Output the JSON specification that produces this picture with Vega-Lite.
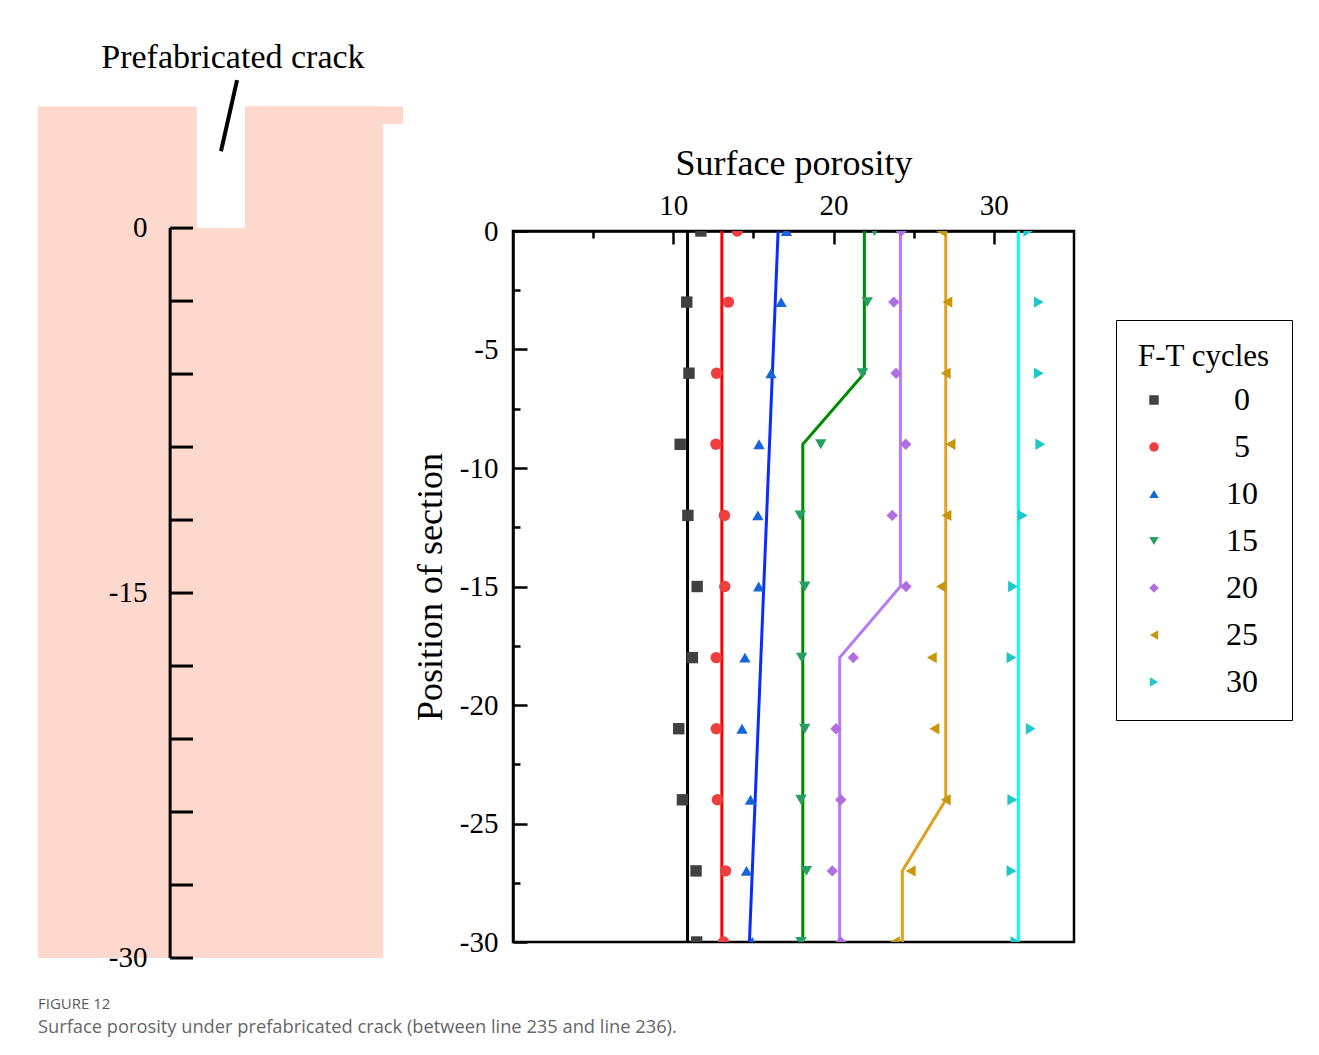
{
  "$schema": "https://vega.github.io/schema/vega-lite/v6.json",
  "background": "white",
  "padding": {"left": 38, "top": 40, "right": 10, "bottom": 10},
  "config": {"font": "Liberation Serif", "view": {"stroke": null}},
  "title": {
    "text": "FIGURE 12",
    "subtitle": "Surface porosity under prefabricated crack (between line 235 and line 236).",
    "orient": "bottom", "anchor": "start", "frame": "bounds", "offset": 24,
    "font": "Open Sans", "fontSize": 15, "fontWeight": "normal", "color": "#5a5a5a",
    "subtitleFont": "Open Sans", "subtitleFontSize": 18.3, "subtitleColor": "#666666", "subtitlePadding": 7
  },
  "datasets": {
    "specimen": [
      {"x0": 0, "x1": 14.18, "d0": -30, "d1": 0},
      {"x0": 0, "x1": 6.53, "d0": 0, "d1": 5},
      {"x0": 8.51, "x1": 14.18, "d0": 0, "d1": 5},
      {"x0": 8.51, "x1": 15, "d0": 4.27, "d1": 5}
    ],
    "ruler": [
      {"depth": 0, "label": "0"}, {"depth": -3, "label": ""}, {"depth": -6, "label": ""},
      {"depth": -9, "label": ""}, {"depth": -12, "label": ""}, {"depth": -15, "label": "-15"},
      {"depth": -18, "label": ""}, {"depth": -21, "label": ""}, {"depth": -24, "label": ""},
      {"depth": -27, "label": ""}, {"depth": -30, "label": "-30"}
    ],
    "notes": [{"text": "Prefabricated crack"}],
    "points": [
      {"cycle": 0, "depth": 0, "porosity": 11.72}, {"cycle": 0, "depth": -3, "porosity": 10.84}, {"cycle": 0, "depth": -6, "porosity": 10.98}, {"cycle": 0, "depth": -9, "porosity": 10.43}, {"cycle": 0, "depth": -12, "porosity": 10.91}, {"cycle": 0, "depth": -15, "porosity": 11.49}, {"cycle": 0, "depth": -18, "porosity": 11.19}, {"cycle": 0, "depth": -21, "porosity": 10.34}, {"cycle": 0, "depth": -24, "porosity": 10.57}, {"cycle": 0, "depth": -27, "porosity": 11.42}, {"cycle": 0, "depth": -30, "porosity": 11.46},
      {"cycle": 5, "depth": 0, "porosity": 13.99}, {"cycle": 5, "depth": -3, "porosity": 13.44}, {"cycle": 5, "depth": -6, "porosity": 12.7}, {"cycle": 5, "depth": -9, "porosity": 12.66}, {"cycle": 5, "depth": -12, "porosity": 13.19}, {"cycle": 5, "depth": -15, "porosity": 13.21}, {"cycle": 5, "depth": -18, "porosity": 12.68}, {"cycle": 5, "depth": -21, "porosity": 12.68}, {"cycle": 5, "depth": -24, "porosity": 12.75}, {"cycle": 5, "depth": -27, "porosity": 13.26}, {"cycle": 5, "depth": -30, "porosity": 13.14},
      {"cycle": 10, "depth": 0, "porosity": 17.05}, {"cycle": 10, "depth": -3, "porosity": 16.73}, {"cycle": 10, "depth": -6, "porosity": 16.1}, {"cycle": 10, "depth": -9, "porosity": 15.35}, {"cycle": 10, "depth": -12, "porosity": 15.28}, {"cycle": 10, "depth": -15, "porosity": 15.33}, {"cycle": 10, "depth": -18, "porosity": 14.47}, {"cycle": 10, "depth": -21, "porosity": 14.29}, {"cycle": 10, "depth": -24, "porosity": 14.82}, {"cycle": 10, "depth": -27, "porosity": 14.57}, {"cycle": 10, "depth": -30, "porosity": 14.93},
      {"cycle": 15, "depth": 0, "porosity": 22.56}, {"cycle": 15, "depth": -3, "porosity": 22.1}, {"cycle": 15, "depth": -6, "porosity": 21.8}, {"cycle": 15, "depth": -9, "porosity": 19.2}, {"cycle": 15, "depth": -12, "porosity": 17.92}, {"cycle": 15, "depth": -15, "porosity": 18.2}, {"cycle": 15, "depth": -18, "porosity": 18.01}, {"cycle": 15, "depth": -21, "porosity": 18.2}, {"cycle": 15, "depth": -24, "porosity": 17.97}, {"cycle": 15, "depth": -27, "porosity": 18.31}, {"cycle": 15, "depth": -30, "porosity": 17.97},
      {"cycle": 20, "depth": 0, "porosity": 24.22}, {"cycle": 20, "depth": -3, "porosity": 23.76}, {"cycle": 20, "depth": -6, "porosity": 23.9}, {"cycle": 20, "depth": -9, "porosity": 24.5}, {"cycle": 20, "depth": -12, "porosity": 23.66}, {"cycle": 20, "depth": -15, "porosity": 24.52}, {"cycle": 20, "depth": -18, "porosity": 21.23}, {"cycle": 20, "depth": -21, "porosity": 20.15}, {"cycle": 20, "depth": -24, "porosity": 20.45}, {"cycle": 20, "depth": -27, "porosity": 19.92}, {"cycle": 20, "depth": -30, "porosity": 20.45},
      {"cycle": 25, "depth": 0, "porosity": 26.7}, {"cycle": 25, "depth": -3, "porosity": 27.1}, {"cycle": 25, "depth": -6, "porosity": 27.0}, {"cycle": 25, "depth": -9, "porosity": 27.3}, {"cycle": 25, "depth": -12, "porosity": 27.04}, {"cycle": 25, "depth": -15, "porosity": 26.7}, {"cycle": 25, "depth": -18, "porosity": 26.13}, {"cycle": 25, "depth": -21, "porosity": 26.29}, {"cycle": 25, "depth": -24, "porosity": 27.0}, {"cycle": 25, "depth": -27, "porosity": 24.81}, {"cycle": 25, "depth": -30, "porosity": 23.82},
      {"cycle": 30, "depth": 0, "porosity": 32.15}, {"cycle": 30, "depth": -3, "porosity": 32.8}, {"cycle": 30, "depth": -6, "porosity": 32.8}, {"cycle": 30, "depth": -9, "porosity": 32.9}, {"cycle": 30, "depth": -12, "porosity": 31.8}, {"cycle": 30, "depth": -15, "porosity": 31.2}, {"cycle": 30, "depth": -18, "porosity": 31.1}, {"cycle": 30, "depth": -21, "porosity": 32.3}, {"cycle": 30, "depth": -24, "porosity": 31.15}, {"cycle": 30, "depth": -27, "porosity": 31.1}, {"cycle": 30, "depth": -30, "porosity": 31.35}
    ],
    "fits": [
      {"cycle": 0, "depth": 0, "fit": 10.89}, {"cycle": 0, "depth": -30, "fit": 10.89},
      {"cycle": 5, "depth": 0, "fit": 13.03}, {"cycle": 5, "depth": -30, "fit": 13.03},
      {"cycle": 10, "depth": 0, "fit": 16.54}, {"cycle": 10, "depth": -30, "fit": 14.75},
      {"cycle": 15, "depth": 0, "fit": 21.92}, {"cycle": 15, "depth": -6, "fit": 21.92}, {"cycle": 15, "depth": -9, "fit": 18.08}, {"cycle": 15, "depth": -30, "fit": 18.08},
      {"cycle": 20, "depth": 0, "fit": 24.17}, {"cycle": 20, "depth": -15, "fit": 24.17}, {"cycle": 20, "depth": -18, "fit": 20.38}, {"cycle": 20, "depth": -30, "fit": 20.38},
      {"cycle": 25, "depth": 0, "fit": 27.0}, {"cycle": 25, "depth": -24, "fit": 27.0}, {"cycle": 25, "depth": -27, "fit": 24.29}, {"cycle": 25, "depth": -30, "fit": 24.29},
      {"cycle": 30, "depth": 0, "fit": 31.53}, {"cycle": 30, "depth": -30, "fit": 31.53}
    ]
  },
  "spacing": 8,
  "hconcat": [
    {
      "width": 365,
      "height": 727,
      "view": {"stroke": null},
      "layer": [
        {
          "data": {"name": "specimen"},
          "mark": {"type": "rect", "color": "#fdd8cd"},
          "encoding": {
            "x": {"field": "x0", "type": "quantitative", "scale": {"domain": [0, 15], "nice": false, "zero": false}, "axis": null},
            "x2": {"field": "x1"},
            "y": {"field": "d0", "type": "quantitative", "scale": {"domain": [-30, -0.12], "nice": false, "zero": false}, "axis": null},
            "y2": {"field": "d1"}
          }
        },
        {
          "data": {"name": "ruler"},
          "mark": {"type": "rule", "color": "black", "strokeWidth": 3},
          "encoding": {
            "x": {"datum": 5.43, "type": "quantitative"},
            "y": {"aggregate": "min", "field": "depth", "type": "quantitative"},
            "y2": {"aggregate": "max", "field": "depth"}
          }
        },
        {
          "data": {"name": "ruler"},
          "mark": {"type": "rule", "color": "black", "strokeWidth": 3},
          "encoding": {
            "x": {"datum": 5.43, "type": "quantitative"},
            "x2": {"datum": 6.37},
            "y": {"field": "depth", "type": "quantitative"}
          }
        },
        {
          "data": {"name": "ruler"},
          "mark": {"type": "text", "align": "right", "baseline": "middle", "fontSize": 29, "font": "Liberation Serif", "color": "black"},
          "encoding": {
            "x": {"datum": 4.5, "type": "quantitative"},
            "y": {"field": "depth", "type": "quantitative"},
            "text": {"field": "label"}
          }
        },
        {
          "data": {"name": "notes"},
          "mark": {"type": "text", "align": "center", "baseline": "alphabetic", "fontSize": 34, "font": "Liberation Serif", "color": "black"},
          "encoding": {
            "x": {"datum": 8.01, "type": "quantitative"},
            "y": {"datum": 6.58, "type": "quantitative"},
            "text": {"field": "text"}
          }
        },
        {
          "data": {"name": "notes"},
          "mark": {"type": "rule", "color": "black", "strokeWidth": 4},
          "encoding": {
            "x": {"datum": 8.18, "type": "quantitative"},
            "y": {"datum": 6.08, "type": "quantitative"},
            "x2": {"datum": 7.52},
            "y2": {"datum": 3.16}
          }
        }
      ]
    },
    {
      "width": 561,
      "height": 711,
      "view": {"stroke": "black", "strokeWidth": 2.5},
      "layer": [
        {
          "data": {"name": "fits"},
          "mark": {"type": "line", "strokeWidth": 3, "clip": true},
          "encoding": {
            "x": {"field": "fit", "type": "quantitative", "scale": {"domain": [0, 35], "nice": false, "zero": false},
                  "axis": {"orient": "top", "values": [5, 15, 25], "tickSize": -7, "tickWidth": 2.5, "tickColor": "black", "labels": false, "domain": false, "grid": false, "title": null}},
            "y": {"field": "depth", "type": "quantitative", "scale": {"domain": [-30, 0], "nice": false, "zero": false},
                  "axis": {"orient": "left", "values": [-2.5, -7.5, -12.5, -17.5, -22.5, -27.5], "tickSize": -7, "tickWidth": 2.5, "tickColor": "black", "labels": false, "domain": false, "grid": false, "title": null}},
            "color": {"field": "cycle", "type": "nominal",
                      "scale": {"domain": [0, 5, 10, 15, 20, 25, 30], "range": ["#000000", "#ff0000", "#0a2cff", "#008a00", "#b77bf7", "#e0a020", "#00ffff"]},
                      "legend": null},
            "order": {"field": "depth", "type": "quantitative"}
          }
        },
        {
          "data": {"name": "points"},
          "mark": {"type": "point", "filled": true, "opacity": 1, "size": 130, "clip": true, "strokeWidth": 0},
          "encoding": {
            "x": {"field": "porosity", "type": "quantitative",
                  "axis": {"orient": "top", "values": [10, 20, 30], "labelExpr": "'' + datum.value", "tickSize": -13, "tickWidth": 2.5, "tickColor": "black",
                           "domain": true, "domainColor": "black", "domainWidth": 2.5, "grid": false, "labelFlush": false, "labelOverlap": false,
                           "labelFont": "Liberation Serif", "labelFontSize": 29, "labelColor": "black", "labelPadding": 24,
                           "title": "Surface porosity", "titleFont": "Liberation Serif", "titleFontSize": 36, "titleFontWeight": "normal", "titleColor": "black", "titlePadding": 9}},
            "y": {"field": "depth", "type": "quantitative",
                  "axis": {"orient": "left", "values": [0, -5, -10, -15, -20, -25, -30], "labelExpr": "'' + datum.value", "tickSize": -14, "tickWidth": 2.5, "tickColor": "black",
                           "domain": true, "domainColor": "black", "domainWidth": 2.5, "grid": false, "labelFlush": false, "labelOverlap": false,
                           "labelFont": "Liberation Serif", "labelFontSize": 29, "labelColor": "black", "labelPadding": 29,
                           "title": "Position of section", "titleFont": "Liberation Serif", "titleFontSize": 36, "titleFontWeight": "normal", "titleColor": "black", "titlePadding": 10}},
            "color": {"field": "cycle", "type": "nominal",
                      "scale": {"domain": [0, 5, 10, 15, 20, 25, 30], "range": ["#404040", "#ef3e3e", "#1565d8", "#26a062", "#b06ee0", "#c8960c", "#1cc8c8"]},
                      "legend": {"title": "F-T cycles", "orient": "none", "legendX": 603, "legendY": 89, "strokeColor": "black", "padding": 22,
                                 "titleFont": "Liberation Serif", "titleFontSize": 31, "titleFontWeight": "normal", "titleColor": "black", "titlePadding": 11,
                                 "labelFont": "Liberation Serif", "labelFontSize": 32, "labelColor": "black", "labelAlign": "center", "labelOffset": 72,
                                 "symbolSize": 90, "symbolStrokeWidth": 0, "rowPadding": 15}},
            "shape": {"field": "cycle", "type": "nominal",
                      "scale": {"domain": [0, 5, 10, 15, 20, 25, 30], "range": ["square", "circle", "triangle-up", "triangle-down", "diamond", "triangle-left", "triangle-right"]},
                      "legend": {"title": "F-T cycles", "orient": "none", "legendX": 603, "legendY": 89, "strokeColor": "black", "padding": 22,
                                 "titleFont": "Liberation Serif", "titleFontSize": 31, "titleFontWeight": "normal", "titleColor": "black", "titlePadding": 11,
                                 "labelFont": "Liberation Serif", "labelFontSize": 32, "labelColor": "black", "labelAlign": "center", "labelOffset": 72,
                                 "symbolSize": 90, "symbolStrokeWidth": 0, "rowPadding": 15}}
          }
        }
      ],
      "resolve": {"scale": {"color": "independent", "shape": "independent"}, "axis": {"x": "independent", "y": "independent"}}
    }
  ]
}
